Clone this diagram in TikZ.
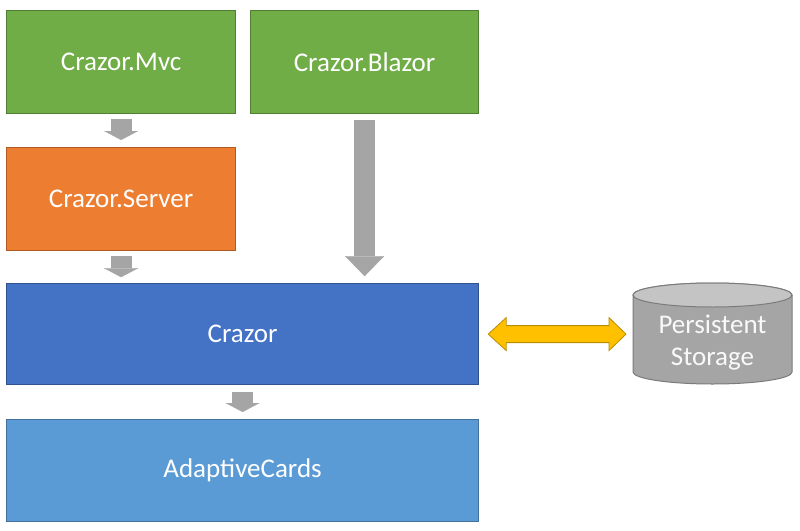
\documentclass[tikz,border=0pt]{standalone}
\usepackage{fontspec}
\setmainfont{Carlito}
\usetikzlibrary{arrows.meta,calc}
\definecolor{mvcgreen}{HTML}{70AD47}
\definecolor{mvcline}{HTML}{507E32}
\definecolor{srvorange}{HTML}{ED7D31}
\definecolor{srvline}{HTML}{AE5A21}
\definecolor{corblue}{HTML}{4472C4}
\definecolor{corline}{HTML}{2F528F}
\definecolor{cardblue}{HTML}{5B9BD5}
\definecolor{cardline}{HTML}{41719C}
\definecolor{arrgray}{HTML}{A5A5A5}
\definecolor{dbgray}{HTML}{A5A5A5}
\definecolor{dbtop}{HTML}{C4C4C4}
\definecolor{dbline}{HTML}{7B7B7B}
\definecolor{linkgold}{HTML}{FFC000}
\definecolor{linkline}{HTML}{BC8C00}
\tikzset{
  layer/.style={draw, line width=1.2pt, anchor=north west, text=white,
    font=\fontsize{27}{31}\selectfont, inner sep=0pt},
  blockarr/.style={draw=arrgray, line width=21pt,
    -{Triangle[width=34pt,length=9pt,line width=0.1pt]}},
}
\begin{document}
\begin{tikzpicture}[x=1pt,y=-1pt]
\useasboundingbox (0,0) rectangle (800,530);
% the layers
\node[layer, fill=mvcgreen, draw=mvcline, minimum width=229, minimum height=103]
  (mvc) at (6,10) {Crazor.Mvc};
\node[layer, fill=mvcgreen, draw=mvcline, minimum width=228, minimum height=103]
  (blazor) at (250,10) {Crazor.Blazor};
\node[layer, fill=srvorange, draw=srvline, minimum width=229, minimum height=103]
  (server) at (6,147) {Crazor.Server};
\node[layer, fill=corblue, draw=corline, minimum width=472, minimum height=101]
  (crazor) at (6,283) {Crazor};
\node[layer, fill=cardblue, draw=cardline, minimum width=472, minimum height=102]
  (cards) at (6,419) {AdaptiveCards};
% storage cylinder
\coordinate (store) at (712.5,333.5);
\draw[fill=dbgray, draw=dbline, line width=1pt]
  (633,295) -- (633,372) arc[start angle=180, end angle=360, x radius=79.5pt, y radius=12pt]
  -- (792,295) arc[start angle=0, end angle=180, x radius=79.5pt, y radius=12pt] -- cycle;
\draw[fill=dbtop, draw=dbline, line width=1pt]
  (712.5,295) ellipse[x radius=79.5pt, y radius=12pt];
\node[text=white!95!gray, align=center, font=\fontsize{27}{32}\selectfont]
  (storage) at (712.5,343) {Persistent\\Storage};
% dependencies
\draw[blockarr] ($(mvc.south)+(0,5)$) -- ($(server.north)+(0,-7)$);
\draw[blockarr] ($(server.south)+(0,5)$) -- ($(server.south)+(0,26)$);
\draw[blockarr, -{Triangle[width=39pt,length=20pt,line width=0.1pt]}]
  ($(blazor.south)+(0,6)$) -- ($(blazor.south)+(0,162)$);
\draw[blockarr] ($(crazor.south)+(0,7)$) -- ($(cards.north)+(0,-7)$);
% link to storage
\coordinate (linkl) at ($(crazor.east)+(9,0)$);
\coordinate (linkr) at ($(crazor.east -| store)+(-86.5,0)$);
\draw[fill=linkgold, draw=linkline, line width=0.8pt, line join=miter]
  (linkl) -- ++(18,-16.5) -- ++(0,8) -- ($(linkr)+(-17,-8.5)$) -- ++(0,-8)
  -- (linkr) -- ++(-17,16.5) -- ++(0,-8) -- ($(linkl)+(18,8.5)$) -- ++(0,8) -- cycle;
\end{tikzpicture}
\end{document}
